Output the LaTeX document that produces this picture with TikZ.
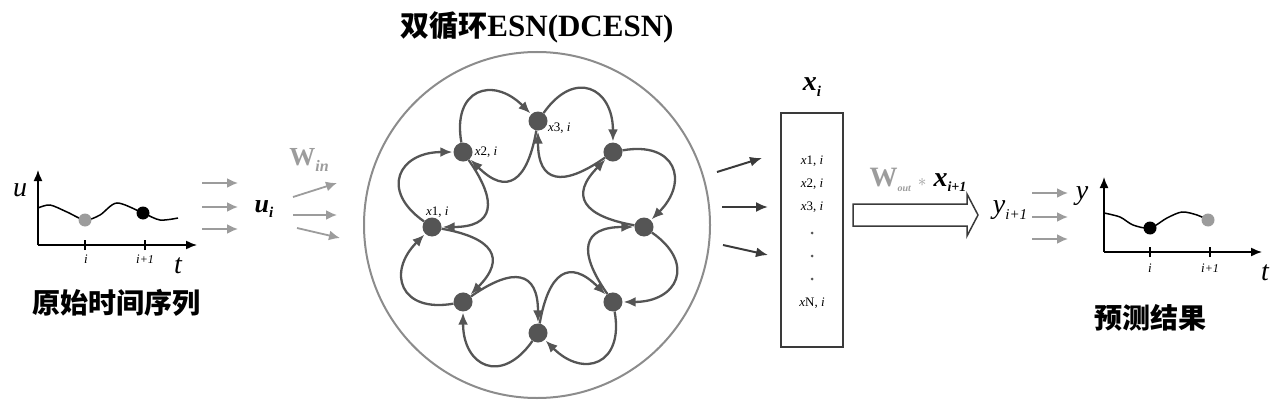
\documentclass[tikz,border=0pt]{standalone}
\usepackage{fontspec}
\setmainfont{Liberation Serif}
\newfontfamily\cjk{Noto Sans CJK SC}
\usetikzlibrary{arrows.meta,positioning,calc}
\definecolor{ink}{HTML}{3A3A3A}
\definecolor{dotgray}{HTML}{555555}
\definecolor{feedgray}{HTML}{9C9C9C}
\definecolor{rimgray}{HTML}{8C8C8C}
\newcommand{\fsz}[1]{\fontsize{#1}{#1}\selectfont}
\newcommand{\sbx}[2]{\raisebox{-0.2em}{\fsz{#1}#2}}

\begin{document}
\begin{tikzpicture}[x=1pt,y=1pt,>=Latex,
 ring/.style={draw=dotgray,line width=2.3pt,shorten >=1pt,-{Latex[length=12pt,width=10pt]}},
 feed/.style={draw=feedgray,line width=1.8pt,-{Latex[length=11pt,width=10pt]}},
 readout/.style={draw=ink,line width=2pt,-{Latex[length=12pt,width=10pt]}},
 axis/.style={draw=black,line width=1.5pt,-{Latex[length=11pt,width=9pt]}},
 neuron/.style={circle,fill=dotgray,inner sep=0pt,minimum size=19pt},
 sample/.style={circle,inner sep=0pt,minimum size=13pt},
 lab/.style={inner sep=1pt,font=\fsz{13}},
 head/.style={inner sep=0pt,font=\fsz{28}\cjk\bfseries}]
\useasboundingbox (0,0) rectangle (1284,416);

% input series
\coordinate (o1) at (38,171);
\draw[axis] (o1) -- (197,171);
\draw[axis] (o1) -- (38,246);
\draw[line width=1.5pt] plot[smooth] coordinates {(38,208) (50,211) (67,204) (85,196) (100,201) (117,213) (143,203) (160,196) (178,198)};
\node[sample,fill=feedgray] (u0) at (85,196) {};
\node[sample,fill=black] (u1) at (143,203) {};
\draw[line width=1.2pt] (85,166) -- (85,176) (145,166) -- (145,176);
\node[lab] at (86,157) {\itshape i};
\node[lab] at (145,157) {\itshape i\fsz{12}+1};
\node[font=\fsz{28}\itshape] at (20,226) {u};
\node[font=\fsz{28}\itshape] at (178,150) {t};
\node[head] (src) at (116,113) {原始时间序列};

% inputs
\foreach \y in {233,209,187}
  \draw[feed] (202,\y) -- (238,\y);
\node[font=\fsz{26}\bfseries\itshape] (ui) at (264,207) {u\sbx{15}{i}};
\node[font=\fsz{26}\bfseries,text=feedgray] (win) at (309,256) {W\sbx{16}{\itshape in}};
\draw[feed] (293,219) -- (337,233);
\draw[feed] (293,201) -- (337,201);
\draw[feed] (297,188) -- (340,178);

% reservoir
\coordinate (c) at (538,189);
\draw[draw=rimgray,line width=2pt] (537,191) circle (173);
\node[inner sep=0pt] (title) at (537,389) {\bfseries\fsz{29}{\cjk 双循环}\fsz{31}ESN(DCESN)};
\foreach \k in {1,...,8}
  \node[neuron] (x\k) at ($(c)+({225-45*\k}:106)$) {};
\foreach \k/\n in {1/2,2/3,3/4,4/5,5/6,6/7,7/8,8/1}{
  \pgfmathsetmacro\a{225-45*\k}
  \pgfmathsetmacro\ao{\a-35}
  \pgfmathsetmacro\ai{\a+125}
  \pgfmathsetmacro\ab{\a+180}
  \draw[ring] (x\k) to[out=\ao,in=\a,looseness=1.85] (x\n);
  \draw[ring] (x\n) to[out=\ai,in=\ab,looseness=1.85] (x\k);
}
\node[lab,above right=1pt and -14pt of x1] {\itshape x\upshape 1, \itshape i};
\node[lab,right=1pt of x2] {\itshape x\upshape 2, \itshape i};
\node[lab,below right=-6pt and 2pt of x3] {\itshape x\upshape 3, \itshape i};

% state vector
\node[draw=ink,line width=1.5pt,minimum width=62pt,minimum height=234pt] (state) at (812,186) {};
\node[font=\fsz{28}\bfseries\itshape] (xi) at (812,329) {x\sbx{15}{i}};
\foreach \r/\y in {1/255,2/232,3/209}
  \node[lab] at (812,\y) {\itshape x\upshape \r, \itshape i};
\foreach \y in {183,160,137}
  \node[circle,fill=dotgray,inner sep=0pt,minimum size=3pt] at (812,\y) {};
\node[lab] at (812,113) {\itshape x\upshape N, \itshape i};
\draw[readout] (717,244) -- (762,258);
\draw[readout] (722,209) -- (768,209);
\draw[readout] (723,171) -- (768,161);

% readout arrow
\coordinate (wo) at (853,201);
\draw[draw=ink,line width=1.5pt,line join=miter] ($(wo)+(0,-11)$) -- ++(114,0) -- ++(0,-10) -- (978,201) -- (967,222) -- ++(0,-10) -- ($(wo)+(0,11)$) -- cycle;
\node[inner sep=0pt] (wout) at (918,236) {\fsz{28}\bfseries\textcolor{feedgray}{W\sbx{10}{\itshape out} \fsz{18}$*$} \fsz{28}\bfseries\itshape x\sbx{14}{i+1}};
\node[font=\fsz{28}\itshape] (yo) at (1010,206) {y\sbx{15}{i+1}};
\foreach \y in {223,199,177}
  \draw[feed] (1032,\y) -- (1068,\y);

% output series
\coordinate (o2) at (1104,164);
\draw[axis] (o2) -- (1262,164);
\draw[axis] (o2) -- (1104,239);
\draw[line width=1.5pt] plot[smooth] coordinates {(1104,203) (1120,199) (1133,191) (1150,188) (1167,198) (1182,204) (1197,201) (1208,196)};
\node[sample,fill=black] (y0) at (1150,188) {};
\node[sample,fill=feedgray] (y1) at (1208,196) {};
\draw[line width=1.2pt] (1150,159) -- (1150,169) (1210,159) -- (1210,169);
\node[lab] at (1150,148) {\itshape i};
\node[lab] at (1210,148) {\itshape i\fsz{12}+1};
\node[font=\fsz{28}\itshape] at (1082,220) {y};
\node[font=\fsz{28}\itshape] at (1265,143) {t};
\node[head] (res) at (1150,98) {预测结果};
\end{tikzpicture}
\end{document}
